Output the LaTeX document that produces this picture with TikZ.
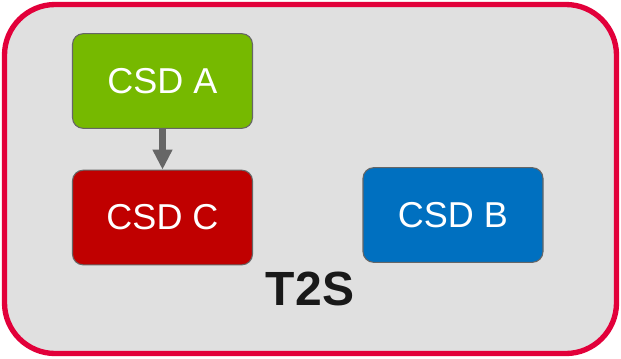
\documentclass[tikz,border=0pt]{standalone}
\usepackage{fontspec}
\setmainfont{Liberation Sans}
\usetikzlibrary{arrows.meta, positioning}
\tikzstyle{csd_element}=[rectangle,
        minimum height=71pt,
        minimum width=135pt,
        draw=BoxBorder,
        line width=0.8pt,
        rounded corners=8,
        text=white,
        font=\fontsize{27}{30}\selectfont, ]
\definecolor{FrameRed}{HTML}{E2003A}
\definecolor{FrameFill}{HTML}{E0E0E0}
\definecolor{BoxBorder}{HTML}{666666}
\definecolor{csdGreen}{HTML}{76B900}
\definecolor{csdRed}{HTML}{C00000}
\definecolor{csdBlue}{HTML}{0070C0}

\begin{document}
\begin{tikzpicture}[x=0.75pt, y=-0.75pt]
    \useasboundingbox (0,0) rectangle (621,358);
    % outer T2S frame
    \draw[FrameRed, fill=FrameFill, line width=4pt, rounded corners=38pt] (4.5,4.5) rectangle (616.5,353.5);

    \node at (162.5, 81) (csdA) [csd_element, fill=csdGreen] {CSD A};
    \node at (162.5, 217.5) (csdC) [csd_element, fill=csdRed] {CSD C};
    \node at (453, 215) (csdB) [csd_element, fill=csdBlue] {CSD B};

    \draw[-{Triangle[length=15pt, width=14pt]}, BoxBorder, line width=5pt] (csdA.south) -- (csdC.north);

    \node at (310, 289) (t2s) [font=\bfseries\fontsize{36}{40}\selectfont, text=black!90] {T2S};
\end{tikzpicture}
\end{document}
